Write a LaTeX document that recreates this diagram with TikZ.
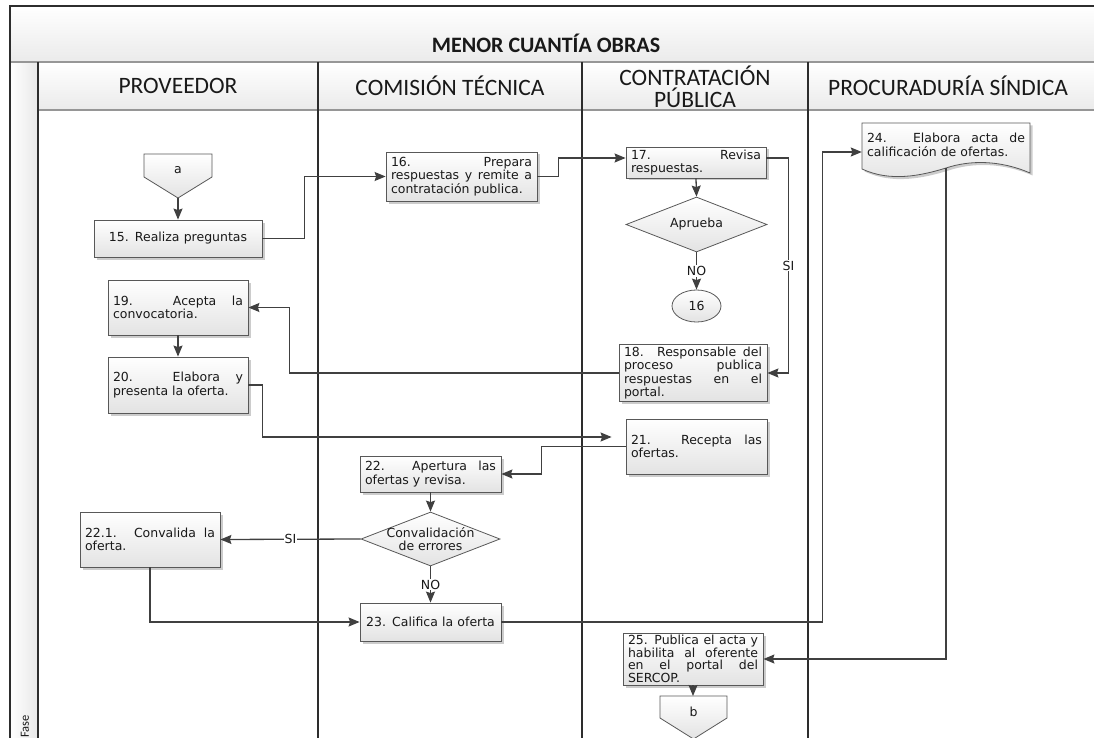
\documentclass[tikz,border=0pt]{standalone}
\usepackage{fontspec}
\setmainfont{DejaVu Sans}
\newfontfamily\hdrfont{Carlito}
\usetikzlibrary{arrows.meta,shapes.geometric,shadows}
\definecolor{lanecol}{RGB}{45,45,45}
\definecolor{conncol}{RGB}{64,64,64}
\definecolor{edgecol}{RGB}{88,88,88}
\definecolor{bandline}{RGB}{150,150,150}
\definecolor{txtcol}{RGB}{25,25,25}
\hyphenpenalty=10000
\exhyphenpenalty=10000
\tolerance=9999

\tikzset{
  boxfont/.style={font=\fontsize{12.5}{13.6}\selectfont, text=txtcol},
  shade box/.style={top color=white, bottom color=black!11},
  boxshadow/.style={drop shadow={shadow xshift=2.5pt, shadow yshift=-2.5pt, fill=black!20, opacity=1}},
  stepbox/.style={rectangle, draw=edgecol, line width=0.8pt, shade box, boxshadow,
    boxfont, inner xsep=5pt, inner ysep=2pt, align=justify},
  decision/.style={diamond, draw=edgecol, line width=0.8pt, shade box, inner sep=0pt, boxfont},
  offpage/.style={draw=edgecol, line width=0.8pt, shade box},
  link/.style={draw=conncol, line width=1.3pt, -{Stealth[length=11pt,width=9pt,inset=1.5pt]}},
  tag/.style={fill=white, inner sep=1pt, boxfont},
  lane/.style={draw=lanecol, line width=1.4pt},
  bandedge/.style={draw=bandline, line width=1.2pt},
  lanehead/.style={font=\hdrfont\fontsize{23.5}{22}\selectfont, text=txtcol, align=center},
}

\begin{document}
\begin{tikzpicture}[x=1pt, y=-1pt]
\useasboundingbox (0,0) rectangle (1094,738);

% ---- pool frame: title band, lane header row, phase column
\fill[top color=white, bottom color=black!8] (10,6) rectangle (1100,62);
\fill[top color=white, bottom color=black!8] (38,62) rectangle (1100,110);
\fill[left color=white, right color=black!9] (10,62) rectangle (38,745);
\draw[bandedge] (10,62) -- (1100,62);
\draw[bandedge] (38,110) -- (1100,110);
\draw[lane] (10,745) -- (10,6) -- (1100,6);
\foreach \lx in {38,318,582,808} \draw[lane] (\lx,62) -- (\lx,745);

\node[font=\hdrfont\bfseries\fontsize{22}{22}\selectfont, text=txtcol] (title) at (546,43) {MENOR CUANTÍA OBRAS};
\node[lanehead] (hprov) at (178,86) {PROVEEDOR};
\node[lanehead] (hcom)  at (450,86) {COMISIÓN TÉCNICA};
\node[lanehead] (hcont) at (695,87) {CONTRATACIÓN\\PÚBLICA};
\node[lanehead] (hproc) at (948,86) {PROCURADURÍA SÍNDICA};
\node[font=\hdrfont\fontsize{12.5}{12.5}\selectfont, text=txtcol, rotate=90, anchor=west, inner sep=0pt] (fase) at (25,738) {Fase};

% ---- off-page connector a
\path[offpage] (144,154) -- (212,154) -- (212,177) -- (178,198) -- (144,177) -- cycle;
\node[boxfont] (pa) at (178,170) {a};
\coordinate (pa-tip) at (178,198);

% ---- process steps
\node[stepbox, text width=158pt, minimum height=37pt, align=center] (n15) at (178,238.5) {15. Realiza preguntas};
\node[stepbox, text width=141pt, minimum height=49pt] (n16) at (461.5,176.5) {16. Prepara\linebreak respuestas y remite a\linebreak contratación publica.};
\node[stepbox, text width=130pt, minimum height=31pt] (n17) at (696,162.5) {17. Revisa\linebreak respuestas.};
\node[decision, minimum width=141pt, minimum height=55pt, label={[boxfont]center:Aprueba}] (d1) at (696.5,224.5) {};
\node[ellipse, draw=edgecol, line width=0.8pt, shade box, minimum width=49pt, minimum height=32pt, inner sep=0pt, boxfont] (c16) at (696.5,306) {16};
\node[stepbox, text width=138pt, minimum height=56pt] (n18) at (693,373) {18. Responsable del\linebreak proceso publica\linebreak respuestas en el\linebreak portal.};
\node[stepbox, text width=130pt, minimum height=55pt] (n19) at (178,307.5) {19. Acepta la\linebreak convocatoria.};
\node[stepbox, text width=130pt, minimum height=56pt] (n20) at (178,385) {20. Elabora y\linebreak presenta la oferta.};
\node[stepbox, text width=131pt, minimum height=55pt] (n21) at (696.5,446.5) {21. Recepta las\linebreak ofertas.};
\node[stepbox, text width=131pt, minimum height=36pt] (n22) at (430.5,474) {22. Apertura las\linebreak ofertas y revisa.};
\node[decision, minimum width=139pt, minimum height=54pt, label={[boxfont, align=center]center:Convalidación\\de errores}] (d2) at (430.5,539) {};
\node[stepbox, text width=130pt, minimum height=55pt] (n221) at (150,539.5) {22.1. Convalida la\linebreak oferta.};
\node[stepbox, text width=131pt, minimum height=38pt, align=center] (n23) at (430.5,622) {23. Califica la oferta};

% ---- document step 24 with wavy lower edge
\path[offpage, boxshadow] (862,123) -- (1030,123) -- (1030,173)
  .. controls (1000,160) and (970,160) .. (946,168)
  .. controls (920,176) and (890,182) .. (862,169) -- cycle;
\node[boxfont, text width=158pt, inner sep=0pt, align=justify, minimum width=168pt, minimum height=50pt] (n24) at (946,145) {24. Elabora acta de\linebreak calificación de ofertas.};
\coordinate (n24b) at (946,168);

\node[stepbox, font=\fontsize{12.5}{12.6}\selectfont, text width=130pt, minimum height=52pt, inner ysep=0.5pt] (n25) at (693,659) {25. Publica el acta y\linebreak habilita al oferente\linebreak en el portal del\linebreak SERCOP.};

% ---- off-page connector b
\path[offpage] (660,696) -- (727,696) -- (727,718) -- (693.5,739) -- (660,718) -- cycle;
\node[boxfont] (pb) at (693.5,712) {b};
\coordinate (pb-top) at (693,696);

% ---- flow connectors
\draw[link] (pa-tip) -- (n15.north);
\draw[link] (n15.east) -- ++(42,0) |- (n16.west);
\draw[link] (n16.east) -- ++(21,0) |- ([yshift=4.5pt]n17.west);
\draw[link] (n17.south) -- (d1.north);
\draw[link] (d1.south) -- node[tag]{NO} (c16.north);
\draw[link] ([yshift=4.5pt]n17.east) -- ++(22,0) |- node[tag, pos=0.25]{SI} (n18.east);
\draw[link] (n18.west) -- ++(-329,0) |- (n19.east);
\draw[link] (n19.south) -- (n20.north);
\draw[link, shorten >=14pt] (n20.east) -- ++(14,0) |- ([yshift=9.5pt]n21.west);
\draw[link] (n21.west) -- ++(-84,0) |- (n22.east);
\draw[link] (n22.south) -- (d2.north);
\draw[link] (d2.west) -- node[tag]{SI} (n221.east);
\draw[link] (d2.south) -- node[tag]{NO} (n23.north);
\draw[link] (n221.south) |- (n23.west);
\draw[link] (n23.east) -- ++(321,0) |- ([yshift=-7pt]n24.west);
\draw[link] (n24b) |- (n25.east);
\draw[link] (n25.south) -- (pb-top);
\end{tikzpicture}
\end{document}
